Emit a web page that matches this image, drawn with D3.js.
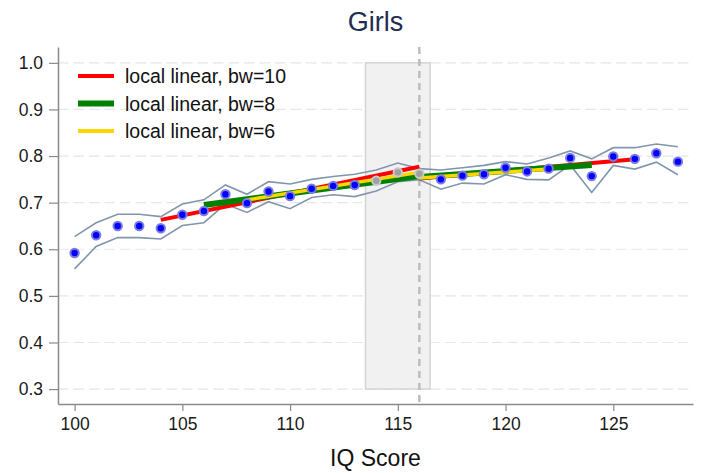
<!DOCTYPE html>
<html><head><meta charset="utf-8">
<script src="https://cdn.jsdelivr.net/npm/d3@7"></script>
<style>body{margin:0;background:#fff;} text{font-family:Arial,"Liberation Sans",sans-serif;}</style>
</head><body><svg id="c" width="703" height="473"></svg>
<script>
const iq = [100,101,102,103,104,105,106,107,108,109,110,111,112,113,114,115,116,117,118,119,120,121,122,123,124,125,126,127,128];
const share = [0.592,0.630,0.650,0.650,0.645,0.674,0.682,0.718,0.699,0.724,0.714,0.730,0.736,0.738,0.747,0.765,0.762,0.750,0.758,0.761,0.775,0.767,0.773,0.796,0.757,0.799,0.794,0.806,0.788];
const ciUpper = [0.627,0.657,0.675,0.675,0.670,0.697,0.706,0.738,0.718,0.745,0.740,0.750,0.756,0.761,0.770,0.785,0.773,0.770,0.775,0.780,0.788,0.783,0.796,0.811,0.794,0.818,0.818,0.826,0.820];
const ciLower = [0.558,0.606,0.625,0.625,0.622,0.651,0.657,0.697,0.679,0.702,0.687,0.711,0.717,0.713,0.725,0.745,0.749,0.729,0.742,0.740,0.760,0.750,0.749,0.781,0.722,0.780,0.772,0.787,0.760];
const excluded = [114,115,116];
const cutoff = 116;
const donutLo = 113.5, donutHi = 116.5;
// local linear fits: [x, y] endpoints, left and right of cutoff
const bw10 = [[[104,0.663],[116,0.777]],[[116,0.752],[126,0.793]]];
const bw8  = [[[106,0.695],[116,0.757]],[[116,0.755],[124,0.781]]];
const bw6  = [[[108,0.706],[116,0.765]],[[116,0.753],[122,0.772]]];
const yTicks = [0.3,0.4,0.5,0.6,0.7,0.8,0.9,1.0];
const xTicks = [100,105,110,115,120,125];
const legendLabels = ["local linear, bw=10","local linear, bw=8","local linear, bw=6"];

const svg = d3.select("#c");
const L=58, R=693, T=47, B=404;
const x = d3.scaleLinear().domain([99.23,128.7]).range([L,R]);
const y = d3.scaleLinear().domain([0.268,1.034]).range([B,T]);

// gridlines
svg.append("g").selectAll("line").data(yTicks).join("line")
  .attr("x1",L).attr("x2",R).attr("y1",d=>y(d)).attr("y2",d=>y(d))
  .attr("stroke","#e6e6e6").attr("stroke-width",1.2).attr("stroke-dasharray","10.5,5");

// donut rect
svg.append("rect").attr("x",x(donutLo)).attr("y",y(1.0)).attr("width",x(donutHi)-x(donutLo)).attr("height",y(0.3)-y(1.0))
  .attr("fill","#f1f1f1").attr("stroke","#d4d4d4").attr("stroke-width",1.5);
// cutoff
svg.append("line").attr("x1",x(cutoff)).attr("x2",x(cutoff)).attr("y1",T).attr("y2",B)
  .attr("stroke","#bdbdbd").attr("stroke-width",2.5).attr("stroke-dasharray","7,5");

// CI lines
const line = d3.line().x(d=>x(d[0])).y(d=>y(d[1]));
[ciUpper,ciLower].forEach(arr=>{
  svg.append("path").attr("d",line(iq.map((v,i)=>[v,arr[i]]))).attr("fill","none")
    .attr("stroke","#8196ad").attr("stroke-width",1.6);
});

// fits
const fitStyles = [{data:bw10,color:"#ff0000",w:4},{data:bw8,color:"#008000",w:6},{data:bw6,color:"#ffd700",w:3.5}];
fitStyles.forEach(f=>{
  f.data.forEach(seg=>{
    svg.append("path").attr("d",line(seg)).attr("fill","none").attr("stroke",f.color).attr("stroke-width",f.w);
  });
});

// points
svg.append("g").selectAll("circle").data(iq.map((v,i)=>[v,share[i]])).join("circle")
  .attr("cx",d=>x(d[0])).attr("cy",d=>y(d[1])).attr("r",4.2)
  .attr("fill",d=>excluded.includes(d[0])?"#a0a0a0":"#0000ff")
  .attr("stroke",d=>excluded.includes(d[0])?"#c8c8c8":"#7a7ae0").attr("stroke-width",2);

// axes
const yAxis = svg.append("g").attr("transform",`translate(${L},0)`)
  .call(d3.axisLeft(y).tickValues(yTicks).tickFormat(d3.format(".1f")).tickSize(9).tickSizeOuter(0));
const xAxis = svg.append("g").attr("transform",`translate(0,${B})`)
  .call(d3.axisBottom(x).tickValues(xTicks).tickSize(7).tickSizeOuter(0));
[yAxis,xAxis].forEach(g=>{
  g.select(".domain").attr("stroke","#8a8a8a").attr("stroke-width",1.5);
  g.selectAll(".tick line").attr("stroke","#8a8a8a").attr("stroke-width",1.2);
  g.selectAll(".tick text").attr("fill","#1a1a1a").style("font-size","17.5px").style("font-family","Arial,'Liberation Sans',sans-serif");
});
yAxis.selectAll(".tick text").attr("x",-15);
xAxis.selectAll(".tick text").attr("y",14);

// title & label
svg.append("text").attr("x",(L+R)/2).attr("y",31).attr("text-anchor","middle")
  .style("font-size","27px").attr("fill","#1f2d50").text("Girls");
svg.append("text").attr("x",(L+R)/2).attr("y",466).attr("text-anchor","middle")
  .style("font-size","23px").attr("fill","#111").text("IQ Score");

// legend
const lg = svg.append("g");
fitStyles.forEach((f,i)=>{
  const yy = 76 + i*27.5;
  lg.append("line").attr("x1",78).attr("x2",114).attr("y1",yy).attr("y2",yy).attr("stroke",f.color).attr("stroke-width",f.w===3.5?4:f.w);
  lg.append("text").attr("x",125).attr("y",yy+7).style("font-size","19.5px").attr("fill","#111").text(legendLabels[i]);
});
</script></body></html>
